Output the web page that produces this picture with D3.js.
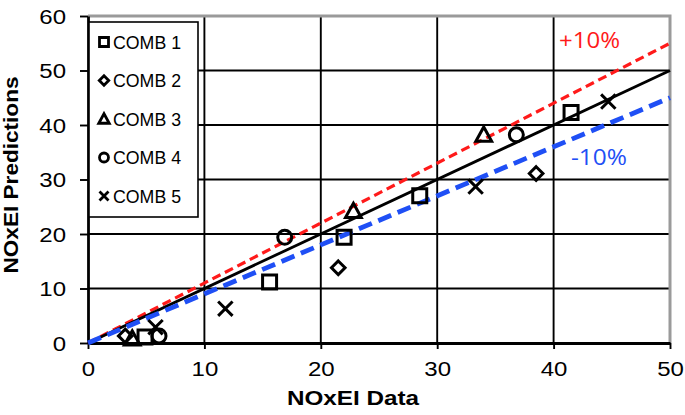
<!DOCTYPE html>
<html><head><meta charset="utf-8">
<script src="https://cdn.jsdelivr.net/npm/d3@7"></script>
<style>
html,body{margin:0;padding:0;background:#fff;}
svg{display:block;font-family:"Liberation Sans",Arial,sans-serif;}
</style></head>
<body><svg id="c" width="685" height="415"></svg>
<script>
const seriesNames = ["COMB 1","COMB 2","COMB 3","COMB 4","COMB 5"];
const seriesShapes = ["square","diamond","triangle","circle","cross"];
const comb1 = [[4.9,1.1],[15.6,11.2],[22.0,19.4],[28.5,27.0],[41.5,42.3]];
const comb2 = [[3.2,1.3],[21.5,13.8],[38.5,31.1]];
const comb3 = [[3.8,0.8],[22.8,24.2],[34.0,38.2]];
const comb4 = [[6.1,1.3],[16.9,19.4],[36.8,38.2]];
const comb5 = [[5.8,2.9],[11.8,6.3],[33.3,28.7],[44.7,44.3]];
const xTicks = [0,10,20,30,40,50];
const yTicks = [0,10,20,30,40,50,60];
const refLines = [{factor:1.1,label:"+10%"},{factor:1.0,label:""},{factor:0.9,label:"-10%"}];
const xTitle = "NOxEI Data", yTitle = "NOxEI Predictions";

const svg = d3.select("#c");
const L=88,R=670,T=16,B=343;
const x = d3.scaleLinear().domain([0,50]).range([L,R]);
const y = d3.scaleLinear().domain([0,60]).range([B,T]);

function stretch(sel,f){sel.each(function(){const w=this.getComputedTextLength();this.setAttribute("textLength",w*f);this.setAttribute("lengthAdjust","spacingAndGlyphs");});}

// gridlines
const g = svg.append("g");
g.selectAll(".hg").data(yTicks.filter(d=>d>0&&d<60)).join("line")
 .attr("x1",L).attr("x2",R).attr("y1",d=>y(d)).attr("y2",d=>y(d)).attr("stroke","#000").attr("stroke-width",1.9);
g.selectAll(".vg").data(xTicks.filter(d=>d>0&&d<50)).join("line")
 .attr("y1",T).attr("y2",B).attr("x1",d=>x(d)).attr("x2",d=>x(d)).attr("stroke","#000").attr("stroke-width",1.9);
// gray top/right border
svg.append("path").attr("d",`M${L},${T}H${R}V${B}`).attr("fill","none").attr("stroke","#9a9a9a").attr("stroke-width",3);

// axes
const ax = svg.append("g").attr("transform",`translate(0,${B})`)
 .call(d3.axisBottom(x).tickValues(xTicks).tickSize(6).tickSizeOuter(0).tickPadding(13));
const ay = svg.append("g").attr("transform",`translate(${L},0)`)
 .call(d3.axisLeft(y).tickValues(yTicks).tickSize(8).tickSizeOuter(0).tickPadding(14));
[ax,ay].forEach(a=>{a.select(".domain").attr("stroke","#000").attr("stroke-width",2.8);
 a.selectAll(".tick line").attr("stroke","#000").attr("stroke-width",1.9);
 a.selectAll("text").attr("font-size",20).attr("fill","#000").attr("font-family","Liberation Sans, Arial, sans-serif");});
ay.selectAll("text").attr("dy","0.36em");
stretch(ax.selectAll("text"),1.2);
stretch(ay.selectAll("text"),1.2);

// reference lines
const lineStyles = {"1.1":{c:"#ff1a1a",w:3.2,d:"9,5"},"1":{c:"#000",w:2.8,d:null},"0.9":{c:"#1f4ff5",w:4.8,d:"14,7"}};
refLines.forEach(r=>{
  const s=lineStyles[String(r.factor)];
  const ln=svg.append("line").attr("x1",x(0)).attr("y1",y(0)).attr("x2",x(50)).attr("y2",y(50*r.factor))
    .attr("stroke",s.c).attr("stroke-width",s.w);
  if(s.d) ln.attr("stroke-dasharray",s.d);
});

// markers
function shapePath(t,s){
  switch(t){
    case "square": return `M${-s},${-s}H${s}V${s}H${-s}Z`;
    case "diamond": return `M0,${-s}L${s},0L0,${s}L${-s},0Z`;
    case "triangle": return `M0,${-s*1.05}L${s*1.05},${s*0.85}L${-s*1.05},${s*0.85}Z`;
    case "circle": return `M${s},0A${s},${s} 0 1 1 ${-s},0A${s},${s} 0 1 1 ${s},0Z`;
    case "cross": return `M${-s},${-s}L${s},${s}M${s},${-s}L${-s},${s}`;
  }
}
const plotSize = {square:7,diamond:6.8,triangle:7.5,circle:7,cross:7.2};
const allSeries=[comb1,comb2,comb3,comb4,comb5];
allSeries.forEach((data,i)=>{
  const t=seriesShapes[i];
  svg.append("g").selectAll("path").data(data).join("path")
   .attr("transform",d=>`translate(${x(d[0])},${y(d[1])})`)
   .attr("d",shapePath(t,plotSize[t])).attr("fill","none").attr("stroke","#000").attr("stroke-width",3);
});

// annotations
svg.append("text").attr("x",559).attr("y",48).attr("fill","#ff1a1a").attr("font-size",21).attr("font-family","Open Sans, Liberation Sans, sans-serif")
  .attr("textLength",61).attr("lengthAdjust","spacingAndGlyphs").text(refLines[0].label);
svg.append("text").attr("x",571).attr("y",165).attr("fill","#1f4ff5").attr("font-size",21).attr("font-family","Open Sans, Liberation Sans, sans-serif")
  .attr("textLength",56).attr("lengthAdjust","spacingAndGlyphs").text(refLines[2].label);

// legend
const lg = svg.append("g");
lg.append("rect").attr("x",89).attr("y",22).attr("width",109).attr("height",195).attr("fill","#fff").attr("stroke","#000").attr("stroke-width",1.6);
const legSize={square:4.5,diamond:4.7,triangle:5,circle:4.5,cross:4.5};
seriesNames.forEach((n,i)=>{
  const cy=42+i*38.5;
  lg.append("path").attr("transform",`translate(104,${cy})`).attr("d",shapePath(seriesShapes[i],legSize[seriesShapes[i]]))
    .attr("fill","none").attr("stroke","#000").attr("stroke-width",2.8);
  lg.append("text").attr("x",113).attr("y",cy+6.5).attr("font-size",18).attr("fill","#000")
    .attr("textLength",68).attr("lengthAdjust","spacingAndGlyphs").text(n);
});

// titles
svg.append("text").attr("x",353).attr("y",405).attr("text-anchor","middle").attr("font-weight","bold").attr("font-size",20.5)
  .attr("fill","#000").attr("textLength",132).attr("lengthAdjust","spacingAndGlyphs").text(xTitle);
svg.append("text").attr("transform","translate(18,175) rotate(-90)").attr("text-anchor","middle").attr("font-weight","bold").attr("font-size",21)
  .attr("fill","#000").attr("textLength",197).attr("lengthAdjust","spacingAndGlyphs").text(yTitle);
</script></body></html>
